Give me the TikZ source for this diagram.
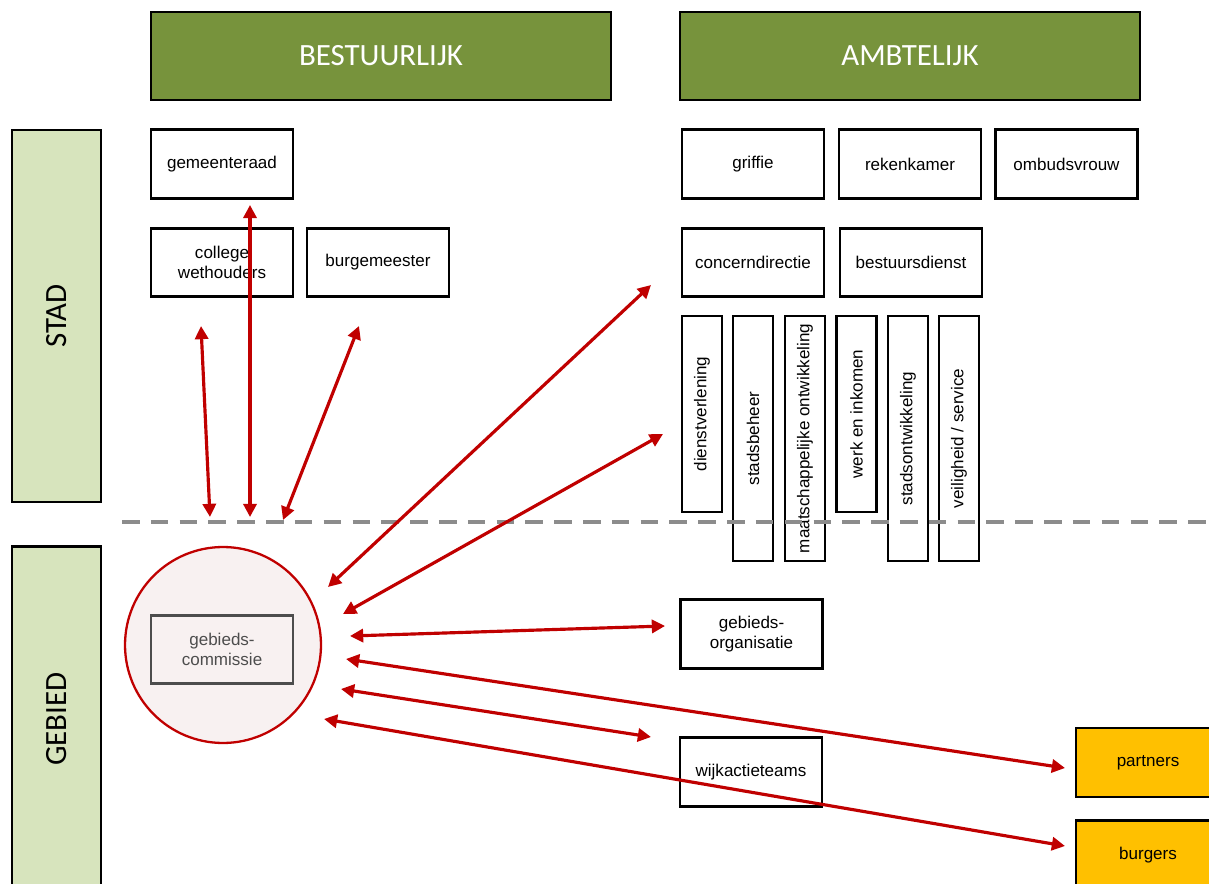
\documentclass[tikz,border=0pt]{standalone}
\usepackage{fontspec}
\setmainfont{Liberation Sans}
\newfontfamily\kopletter{Carlito}
\usepackage{tikz}
\usetikzlibrary{arrows.meta}
\usepackage{xcolor}

\definecolor{kopgroen}{HTML}{77933C}
\definecolor{balkgroen}{HTML}{D7E4BD}
\definecolor{extgeel}{HTML}{FFC000}
\definecolor{pijlrood}{HTML}{C00000}
\definecolor{kringroze}{HTML}{F8F1F1}
\definecolor{commgrijs}{HTML}{4D4D4D}
\definecolor{streepgrijs}{HTML}{8C8C8C}

\newcommand{\kopfont}{\kopletter\fontsize{17.6}{20}\selectfont}
\newcommand{\blokfont}{\fontsize{9.7}{11.3}\selectfont}

\begin{document}
\begin{tikzpicture}[x=0.02cm, y=-0.02cm,
	kop/.style={draw, line width=1.5pt, fill=kopgroen, text=white, minimum width=9.2cm, minimum height=1.76cm, font=\kopfont},
	balk/.style={draw, line width=1.5pt, fill=balkgroen, rotate=90, minimum height=1.78cm, font=\kopfont},
	blok/.style={draw, line width=1.5pt, fill=white, minimum width=2.84cm, minimum height=1.37cm, align=center, inner sep=1pt, font=\blokfont},
	staand/.style={draw, line width=1.5pt, fill=white, rotate=90, minimum height=0.8cm, inner sep=1pt, font=\blokfont},
	extern/.style={blok, fill=extgeel, minimum width=2.88cm, minimum height=1.38cm},
	pijl/.style={draw=pijlrood, line width=1.8pt, {Triangle[length=7.5pt,width=7.5pt]}-{Triangle[length=7.5pt,width=7.5pt]}}]
	\useasboundingbox (0,0) rectangle (1209,884);
	\node[kop] (bestuurlijk) at (381,56) {BESTUURLIJK};
	\node[kop] (ambtelijk) at (910,56) {AMBTELIJK};
	\node[balk, minimum width=7.44cm] (stad) at (56.5,316) {STAD};
	\node[balk, minimum width=6.9cm] (gebied) at (56.5,719) {GEBIED};
%
	\node[blok] (raad) at (222,164) {gemeenteraad};
	\node[blok] (college) at (222,262.5) {college\\wethouders};
	\node[blok] (burg) at (378,262.5) {burgemeester};
	\node[blok] (griffie) at (753,164) {griffie};
	\node[blok] (rekenkamer) at (910,164) {rekenkamer};
	\node[blok] (ombuds) at (1066.5,164) {ombudsvrouw};
	\node[blok] (concern) at (753,262.5) {concerndirectie};
	\node[blok] (bestuur) at (911,262.5) {bestuursdienst};
%
	\node[staand, minimum width=3.92cm] (dienst) at (702,414) {dienstverlening};
	\node[staand, minimum width=4.9cm] (beheer) at (753,438.5) {stadsbeheer};
	\node[staand, minimum width=4.9cm] (maatsch) at (805,438.5) {maatschappelijke ontwikkeling};
	\node[staand, minimum width=3.92cm] (werk) at (856.5,414) {werk en inkomen};
	\node[staand, minimum width=4.9cm] (ontw) at (908,438.5) {stadsontwikkeling};
	\node[staand, minimum width=4.9cm] (veilig) at (959,438.5) {veiligheid / service};
	\draw[streepgrijs, line width=2.2pt, dash pattern=on 10pt off 6.4pt] (122,522) -- (1209,522);
%
	\node[circle, draw=pijlrood, line width=1.3pt, fill=kringroze, minimum size=3.92cm] (kring) at (223,645) {};
	\node[blok, draw=commgrijs, text=commgrijs, fill=kringroze] (commissie) at (222,649.5) {gebieds-\\commissie};
	\node[blok] (organisatie) at (751.5,634) {gebieds-\\organisatie};
	\node[blok] (teams) at (751,772) {wijkactieteams};
	\node[extern] (partners) at (1148,762.5) {partners};
	\node[extern] (burgers) at (1148,855) {burgers};
%
	\coordinate (naarcollege) at (201,326);
	\coordinate (naarraad) at (250,205);
	\coordinate (naarburg) at (359,326);
	\coordinate (naarconcern) at (651,285);
	\coordinate (naardiensten) at (663,434);
	\coordinate (naarorg) at (665,626);
	\coordinate (naarpartners) at (1065,768);
	\coordinate (naarteams) at (651,737);
	\coordinate (naarburgers) at (1065,846);
	\coordinate (g1) at (210,517);
	\coordinate (g2) at (250,517);
	\coordinate (g3) at (283,520);
	\coordinate (g4) at (328,587);
	\coordinate (g5) at (343,614);
	\coordinate (g6) at (350,636);
	\coordinate (g7) at (346,659);
	\coordinate (g8) at (341,689);
	\coordinate (g9) at (324,719);
	\draw[pijl] (naarcollege) -- (g1);
	\draw[pijl] (naarraad) -- (g2);
	\draw[pijl] (naarburg) -- (g3);
	\draw[pijl] (naarconcern) -- (g4);
	\draw[pijl] (naardiensten) -- (g5);
	\draw[pijl] (g6) -- (naarorg);
	\draw[pijl] (g7) -- (naarpartners);
	\draw[pijl] (g8) -- (naarteams);
	\draw[pijl] (g9) -- (naarburgers);
\end{tikzpicture}
\end{document}
